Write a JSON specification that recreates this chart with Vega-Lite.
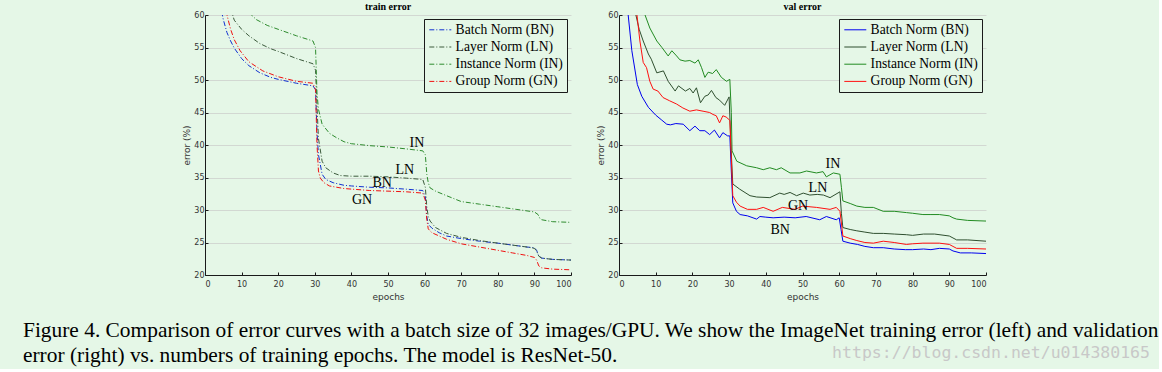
{
"$schema": "https://vega.github.io/schema/vega-lite/v6.json",
"background": "#e5f7e7",
"padding": {"left": 23, "top": 2, "right": 0, "bottom": 0},
"autosize": {"type": "pad"},
"config": {
  "view": {"stroke": null},
  "font": "DejaVu Sans",
  "axis": {"domainColor": "#1a1a1a", "tickColor": "#1a1a1a", "tickSize": -3, "labelFont": "DejaVu Sans", "labelFontSize": 8, "labelColor": "#333", "titleFont": "DejaVu Sans", "titleFontSize": 9, "titleFontWeight": "normal", "titleColor": "#333", "gridColor": "#d2d8d2", "gridWidth": 1, "labelOverlap": false},
  "axisX": {"grid": false, "labelPadding": 8, "titlePadding": 4},
  "axisY": {"grid": true, "labelPadding": 4, "titlePadding": 2},
  "title": {"font": "Liberation Serif", "fontSize": 10, "fontWeight": "bold", "color": "#000", "offset": -1},
  "legend": {"orient": "top-right", "offset": 4, "padding": 4, "strokeColor": "#1a1a1a", "fillColor": "#e5f7e7", "labelFont": "Liberation Serif", "labelFontSize": 13.6, "labelColor": "#000", "symbolType": "M-1,0H3", "symbolSize": 121, "symbolStrokeWidth": 1, "labelOffset": 14, "rowPadding": 2.2, "labelLimit": 300},
  "text": {"font": "Liberation Serif", "fontSize": 14, "color": "#000"}
},
"datasets": {
  "train": [
    {"norm":"BN","epoch":0,"error":85},{"norm":"BN","epoch":2,"error":70},{"norm":"BN","epoch":4,"error":62},{"norm":"BN","epoch":5,"error":59.3},{"norm":"BN","epoch":6,"error":57.3},{"norm":"BN","epoch":7,"error":56},{"norm":"BN","epoch":8,"error":54.9},{"norm":"BN","epoch":10,"error":53.3},{"norm":"BN","epoch":12,"error":52.2},{"norm":"BN","epoch":15,"error":51.1},{"norm":"BN","epoch":18,"error":50.4},{"norm":"BN","epoch":20,"error":50.1},{"norm":"BN","epoch":25,"error":49.5},{"norm":"BN","epoch":29.5,"error":49.1},{"norm":"BN","epoch":30.2,"error":48.5},{"norm":"BN","epoch":30.6,"error":42},{"norm":"BN","epoch":31,"error":38.5},{"norm":"BN","epoch":32,"error":35.5},{"norm":"BN","epoch":33,"error":34.7},{"norm":"BN","epoch":35,"error":34.2},{"norm":"BN","epoch":38,"error":33.8},{"norm":"BN","epoch":40,"error":33.7},{"norm":"BN","epoch":45,"error":33.5},{"norm":"BN","epoch":50,"error":33.4},{"norm":"BN","epoch":55,"error":33.2},{"norm":"BN","epoch":59.5,"error":33.0},{"norm":"BN","epoch":60.2,"error":32},{"norm":"BN","epoch":60.6,"error":29},{"norm":"BN","epoch":61,"error":27.8},{"norm":"BN","epoch":62,"error":27.2},{"norm":"BN","epoch":64,"error":26.5},{"norm":"BN","epoch":66,"error":26},{"norm":"BN","epoch":70,"error":25.6},{"norm":"BN","epoch":75,"error":25.2},{"norm":"BN","epoch":80,"error":24.9},{"norm":"BN","epoch":84,"error":24.6},{"norm":"BN","epoch":88,"error":24.3},{"norm":"BN","epoch":90,"error":24.2},{"norm":"BN","epoch":90.6,"error":23.8},{"norm":"BN","epoch":91.2,"error":22.9},{"norm":"BN","epoch":92,"error":22.6},{"norm":"BN","epoch":95,"error":22.4},{"norm":"BN","epoch":100,"error":22.3},
    {"norm":"LN","epoch":0,"error":90},{"norm":"LN","epoch":4,"error":70},{"norm":"LN","epoch":6,"error":63.5},{"norm":"LN","epoch":7,"error":61},{"norm":"LN","epoch":8,"error":59.2},{"norm":"LN","epoch":10,"error":57.8},{"norm":"LN","epoch":12,"error":56.8},{"norm":"LN","epoch":15,"error":55.6},{"norm":"LN","epoch":18,"error":54.8},{"norm":"LN","epoch":20,"error":54.4},{"norm":"LN","epoch":25,"error":53.3},{"norm":"LN","epoch":29.5,"error":52.5},{"norm":"LN","epoch":30.2,"error":51.5},{"norm":"LN","epoch":30.6,"error":46},{"norm":"LN","epoch":31,"error":41},{"norm":"LN","epoch":32,"error":37.5},{"norm":"LN","epoch":33,"error":36.5},{"norm":"LN","epoch":35,"error":35.7},{"norm":"LN","epoch":37,"error":35.3},{"norm":"LN","epoch":40,"error":35.2},{"norm":"LN","epoch":45,"error":35.2},{"norm":"LN","epoch":50,"error":35.1},{"norm":"LN","epoch":55,"error":34.9},{"norm":"LN","epoch":59.5,"error":34.7},{"norm":"LN","epoch":60.2,"error":33.5},{"norm":"LN","epoch":60.6,"error":30.5},{"norm":"LN","epoch":61,"error":29},{"norm":"LN","epoch":61.5,"error":28.3},{"norm":"LN","epoch":63,"error":27.3},{"norm":"LN","epoch":66,"error":26.4},{"norm":"LN","epoch":70,"error":25.8},{"norm":"LN","epoch":75,"error":25.3},{"norm":"LN","epoch":80,"error":24.9},{"norm":"LN","epoch":84,"error":24.6},{"norm":"LN","epoch":88,"error":24.3},{"norm":"LN","epoch":90,"error":24.1},{"norm":"LN","epoch":90.6,"error":23.7},{"norm":"LN","epoch":91.2,"error":22.9},{"norm":"LN","epoch":92,"error":22.6},{"norm":"LN","epoch":95,"error":22.4},{"norm":"LN","epoch":100,"error":22.3},
    {"norm":"IN","epoch":0,"error":95},{"norm":"IN","epoch":5,"error":75},{"norm":"IN","epoch":8,"error":67},{"norm":"IN","epoch":10,"error":63},{"norm":"IN","epoch":12,"error":60.4},{"norm":"IN","epoch":14,"error":59.3},{"norm":"IN","epoch":17,"error":58.4},{"norm":"IN","epoch":20,"error":57.8},{"norm":"IN","epoch":25,"error":56.8},{"norm":"IN","epoch":29.5,"error":56.0},{"norm":"IN","epoch":30.2,"error":55},{"norm":"IN","epoch":30.6,"error":48},{"norm":"IN","epoch":31,"error":45.5},{"norm":"IN","epoch":32,"error":43.2},{"norm":"IN","epoch":34,"error":41.8},{"norm":"IN","epoch":36,"error":41.1},{"norm":"IN","epoch":38,"error":40.5},{"norm":"IN","epoch":40,"error":40.2},{"norm":"IN","epoch":45,"error":39.9},{"norm":"IN","epoch":50,"error":39.7},{"norm":"IN","epoch":55,"error":39.4},{"norm":"IN","epoch":59.5,"error":39.1},{"norm":"IN","epoch":60.2,"error":38.5},{"norm":"IN","epoch":60.6,"error":35.5},{"norm":"IN","epoch":61,"error":34.2},{"norm":"IN","epoch":61.5,"error":33.4},{"norm":"IN","epoch":63,"error":32.9},{"norm":"IN","epoch":66,"error":32.2},{"norm":"IN","epoch":70,"error":31.3},{"norm":"IN","epoch":75,"error":30.9},{"norm":"IN","epoch":80,"error":30.5},{"norm":"IN","epoch":85,"error":30.1},{"norm":"IN","epoch":90,"error":29.7},{"norm":"IN","epoch":91,"error":29.3},{"norm":"IN","epoch":91.5,"error":28.7},{"norm":"IN","epoch":92,"error":28.5},{"norm":"IN","epoch":95,"error":28.2},{"norm":"IN","epoch":100,"error":28.1},
    {"norm":"GN","epoch":0,"error":85},{"norm":"GN","epoch":3,"error":68},{"norm":"GN","epoch":5,"error":62},{"norm":"GN","epoch":6,"error":60},{"norm":"GN","epoch":7,"error":57.8},{"norm":"GN","epoch":8,"error":56.2},{"norm":"GN","epoch":9.6,"error":54.5},{"norm":"GN","epoch":12,"error":52.8},{"norm":"GN","epoch":15.8,"error":51.4},{"norm":"GN","epoch":20,"error":50.5},{"norm":"GN","epoch":25,"error":49.8},{"norm":"GN","epoch":29.5,"error":49.5},{"norm":"GN","epoch":30.2,"error":48.5},{"norm":"GN","epoch":30.6,"error":40},{"norm":"GN","epoch":31,"error":36},{"norm":"GN","epoch":31.5,"error":34.9},{"norm":"GN","epoch":32.5,"error":34.2},{"norm":"GN","epoch":34,"error":33.7},{"norm":"GN","epoch":38,"error":33.3},{"norm":"GN","epoch":45,"error":33.0},{"norm":"GN","epoch":50,"error":32.9},{"norm":"GN","epoch":55,"error":32.8},{"norm":"GN","epoch":59.5,"error":32.6},{"norm":"GN","epoch":60.2,"error":31.5},{"norm":"GN","epoch":60.6,"error":28.5},{"norm":"GN","epoch":61,"error":27.1},{"norm":"GN","epoch":62,"error":26.5},{"norm":"GN","epoch":64,"error":26},{"norm":"GN","epoch":66,"error":25.5},{"norm":"GN","epoch":70,"error":24.8},{"norm":"GN","epoch":75,"error":24.3},{"norm":"GN","epoch":80,"error":23.8},{"norm":"GN","epoch":84,"error":23.4},{"norm":"GN","epoch":88,"error":23},{"norm":"GN","epoch":90,"error":22.7},{"norm":"GN","epoch":90.6,"error":22.3},{"norm":"GN","epoch":91.2,"error":21.4},{"norm":"GN","epoch":92,"error":21.1},{"norm":"GN","epoch":95,"error":20.9},{"norm":"GN","epoch":100,"error":20.8}
  ],
  "val": [
    {"norm":"BN","epoch":0,"error":80},{"norm":"BN","epoch":1,"error":70},{"norm":"BN","epoch":2,"error":62},{"norm":"BN","epoch":2.5,"error":60},{"norm":"BN","epoch":3.5,"error":54.5},{"norm":"BN","epoch":5,"error":49.3},{"norm":"BN","epoch":6.2,"error":47.5},{"norm":"BN","epoch":8,"error":45.8},{"norm":"BN","epoch":10,"error":44.6},{"norm":"BN","epoch":11.5,"error":43.9},{"norm":"BN","epoch":13,"error":43.2},{"norm":"BN","epoch":14,"error":43.1},{"norm":"BN","epoch":15.5,"error":43.3},{"norm":"BN","epoch":17.5,"error":43.2},{"norm":"BN","epoch":19.3,"error":42.2},{"norm":"BN","epoch":20.7,"error":42.9},{"norm":"BN","epoch":22,"error":42.2},{"norm":"BN","epoch":23.4,"error":42.2},{"norm":"BN","epoch":24.7,"error":41.6},{"norm":"BN","epoch":26,"error":42.3},{"norm":"BN","epoch":27.4,"error":41.1},{"norm":"BN","epoch":28.3,"error":41.9},{"norm":"BN","epoch":29.6,"error":41.4},{"norm":"BN","epoch":30.2,"error":41.4},{"norm":"BN","epoch":30.6,"error":36},{"norm":"BN","epoch":31,"error":31.1},{"norm":"BN","epoch":32,"error":29.8},{"norm":"BN","epoch":33,"error":29.3},{"norm":"BN","epoch":35,"error":29.1},{"norm":"BN","epoch":37.5,"error":28.6},{"norm":"BN","epoch":38.4,"error":29.0},{"norm":"BN","epoch":40,"error":28.9},{"norm":"BN","epoch":42,"error":28.8},{"norm":"BN","epoch":45,"error":28.9},{"norm":"BN","epoch":48,"error":28.8},{"norm":"BN","epoch":51,"error":29.0},{"norm":"BN","epoch":54.7,"error":28.5},{"norm":"BN","epoch":56.5,"error":29.0},{"norm":"BN","epoch":59.2,"error":28.5},{"norm":"BN","epoch":60,"error":28.8},{"norm":"BN","epoch":60.5,"error":27},{"norm":"BN","epoch":61,"error":25.2},{"norm":"BN","epoch":63,"error":24.9},{"norm":"BN","epoch":65,"error":24.7},{"norm":"BN","epoch":67,"error":24.4},{"norm":"BN","epoch":69.3,"error":24.2},{"norm":"BN","epoch":72,"error":24.2},{"norm":"BN","epoch":75,"error":24.0},{"norm":"BN","epoch":78,"error":23.9},{"norm":"BN","epoch":80,"error":23.9},{"norm":"BN","epoch":83,"error":24.0},{"norm":"BN","epoch":85,"error":23.9},{"norm":"BN","epoch":87.3,"error":24.1},{"norm":"BN","epoch":90,"error":24.0},{"norm":"BN","epoch":91,"error":23.7},{"norm":"BN","epoch":93,"error":23.4},{"norm":"BN","epoch":96,"error":23.4},{"norm":"BN","epoch":100,"error":23.3},
    {"norm":"LN","epoch":0,"error":90},{"norm":"LN","epoch":2,"error":72},{"norm":"LN","epoch":4,"error":62},{"norm":"LN","epoch":4.6,"error":60},{"norm":"LN","epoch":5.5,"error":57.8},{"norm":"LN","epoch":6.6,"error":56},{"norm":"LN","epoch":8,"error":54},{"norm":"LN","epoch":8.8,"error":53.2},{"norm":"LN","epoch":10.3,"error":51.1},{"norm":"LN","epoch":12.1,"error":51.4},{"norm":"LN","epoch":13.4,"error":49.8},{"norm":"LN","epoch":15.3,"error":48.3},{"norm":"LN","epoch":16.2,"error":49.1},{"norm":"LN","epoch":18.1,"error":48.3},{"norm":"LN","epoch":19.3,"error":48.7},{"norm":"LN","epoch":20.2,"error":48.0},{"norm":"LN","epoch":21.1,"error":48.8},{"norm":"LN","epoch":22.2,"error":46.5},{"norm":"LN","epoch":23.4,"error":47.5},{"norm":"LN","epoch":24.3,"error":47.7},{"norm":"LN","epoch":25.2,"error":48.4},{"norm":"LN","epoch":26.4,"error":47.3},{"norm":"LN","epoch":27.4,"error":46.9},{"norm":"LN","epoch":28.8,"error":46.1},{"norm":"LN","epoch":30,"error":47.4},{"norm":"LN","epoch":30.5,"error":40},{"norm":"LN","epoch":31,"error":34.0},{"norm":"LN","epoch":32.9,"error":33.2},{"norm":"LN","epoch":35.7,"error":32.2},{"norm":"LN","epoch":37.5,"error":32.0},{"norm":"LN","epoch":41.1,"error":31.9},{"norm":"LN","epoch":43.8,"error":32.6},{"norm":"LN","epoch":45,"error":32.4},{"norm":"LN","epoch":46.6,"error":32.7},{"norm":"LN","epoch":48.4,"error":32.2},{"norm":"LN","epoch":50.2,"error":32.6},{"norm":"LN","epoch":52,"error":32.3},{"norm":"LN","epoch":54,"error":32.4},{"norm":"LN","epoch":55.7,"error":32.3},{"norm":"LN","epoch":57.5,"error":31.9},{"norm":"LN","epoch":60.2,"error":32.8},{"norm":"LN","epoch":60.6,"error":29.5},{"norm":"LN","epoch":61,"error":27.3},{"norm":"LN","epoch":63,"error":27.0},{"norm":"LN","epoch":64.8,"error":26.8},{"norm":"LN","epoch":67,"error":26.6},{"norm":"LN","epoch":69.3,"error":26.4},{"norm":"LN","epoch":72,"error":26.4},{"norm":"LN","epoch":75,"error":26.3},{"norm":"LN","epoch":78.3,"error":26.2},{"norm":"LN","epoch":80,"error":26.1},{"norm":"LN","epoch":83,"error":26.3},{"norm":"LN","epoch":86,"error":26.3},{"norm":"LN","epoch":90,"error":26.0},{"norm":"LN","epoch":91,"error":25.7},{"norm":"LN","epoch":92,"error":25.4},{"norm":"LN","epoch":95,"error":25.4},{"norm":"LN","epoch":100,"error":25.2},
    {"norm":"IN","epoch":0,"error":100},{"norm":"IN","epoch":4,"error":75},{"norm":"IN","epoch":6,"error":64},{"norm":"IN","epoch":7.1,"error":60},{"norm":"IN","epoch":8.4,"error":58},{"norm":"IN","epoch":10.3,"error":56},{"norm":"IN","epoch":11.7,"error":55},{"norm":"IN","epoch":13.4,"error":53.7},{"norm":"IN","epoch":14.4,"error":54.5},{"norm":"IN","epoch":15.7,"error":53.7},{"norm":"IN","epoch":16.6,"error":53.1},{"norm":"IN","epoch":18,"error":52.9},{"norm":"IN","epoch":19.3,"error":53.0},{"norm":"IN","epoch":20.7,"error":52.6},{"norm":"IN","epoch":21.6,"error":53.1},{"norm":"IN","epoch":22.5,"error":51.9},{"norm":"IN","epoch":23.4,"error":50.4},{"norm":"IN","epoch":24.3,"error":51.2},{"norm":"IN","epoch":25.5,"error":51.0},{"norm":"IN","epoch":26.5,"error":51.6},{"norm":"IN","epoch":27.9,"error":50.4},{"norm":"IN","epoch":29.3,"error":49.8},{"norm":"IN","epoch":30.2,"error":50.1},{"norm":"IN","epoch":30.6,"error":45},{"norm":"IN","epoch":30.8,"error":39.1},{"norm":"IN","epoch":32.1,"error":37.5},{"norm":"IN","epoch":34.8,"error":36.8},{"norm":"IN","epoch":37.5,"error":36.5},{"norm":"IN","epoch":39.3,"error":36.2},{"norm":"IN","epoch":41.1,"error":36.5},{"norm":"IN","epoch":42.9,"error":36.2},{"norm":"IN","epoch":44.2,"error":36.5},{"norm":"IN","epoch":46.6,"error":35.7},{"norm":"IN","epoch":49.3,"error":35.7},{"norm":"IN","epoch":51.1,"error":36.0},{"norm":"IN","epoch":53.8,"error":35.7},{"norm":"IN","epoch":55.6,"error":35.9},{"norm":"IN","epoch":56.5,"error":35.1},{"norm":"IN","epoch":58.4,"error":35.7},{"norm":"IN","epoch":60.2,"error":35.5},{"norm":"IN","epoch":60.6,"error":33.5},{"norm":"IN","epoch":61,"error":31.4},{"norm":"IN","epoch":63,"error":31.0},{"norm":"IN","epoch":64.8,"error":30.6},{"norm":"IN","epoch":67,"error":30.4},{"norm":"IN","epoch":69.3,"error":30.4},{"norm":"IN","epoch":72,"error":29.8},{"norm":"IN","epoch":75,"error":29.8},{"norm":"IN","epoch":78.3,"error":29.6},{"norm":"IN","epoch":80,"error":29.5},{"norm":"IN","epoch":82.8,"error":29.3},{"norm":"IN","epoch":85,"error":29.3},{"norm":"IN","epoch":87.3,"error":29.3},{"norm":"IN","epoch":90,"error":29.1},{"norm":"IN","epoch":91,"error":28.8},{"norm":"IN","epoch":92,"error":28.6},{"norm":"IN","epoch":95,"error":28.4},{"norm":"IN","epoch":100,"error":28.3},
    {"norm":"GN","epoch":0,"error":85},{"norm":"GN","epoch":2,"error":70},{"norm":"GN","epoch":4,"error":62},{"norm":"GN","epoch":4.9,"error":60},{"norm":"GN","epoch":5.7,"error":56},{"norm":"GN","epoch":6.6,"error":52.7},{"norm":"GN","epoch":7.5,"error":51.9},{"norm":"GN","epoch":8.4,"error":49.8},{"norm":"GN","epoch":9.3,"error":48.6},{"norm":"GN","epoch":10.6,"error":48.3},{"norm":"GN","epoch":12,"error":47.3},{"norm":"GN","epoch":13.8,"error":46.8},{"norm":"GN","epoch":15.7,"error":46.3},{"norm":"GN","epoch":17.4,"error":45.7},{"norm":"GN","epoch":19.3,"error":45.2},{"norm":"GN","epoch":21.1,"error":45.4},{"norm":"GN","epoch":22.9,"error":45.2},{"norm":"GN","epoch":24.7,"error":45.0},{"norm":"GN","epoch":25.6,"error":44.7},{"norm":"GN","epoch":26.5,"error":44.5},{"norm":"GN","epoch":27.4,"error":43.4},{"norm":"GN","epoch":28.3,"error":44.5},{"norm":"GN","epoch":29.2,"error":44.3},{"norm":"GN","epoch":30.2,"error":43.8},{"norm":"GN","epoch":30.6,"error":38},{"norm":"GN","epoch":31,"error":32.2},{"norm":"GN","epoch":32,"error":31.2},{"norm":"GN","epoch":33,"error":30.6},{"norm":"GN","epoch":35,"error":30.1},{"norm":"GN","epoch":37.5,"error":30.1},{"norm":"GN","epoch":39.3,"error":30.4},{"norm":"GN","epoch":42,"error":29.8},{"norm":"GN","epoch":44.5,"error":30.4},{"norm":"GN","epoch":48,"error":30.1},{"norm":"GN","epoch":50,"error":30.6},{"norm":"GN","epoch":53.8,"error":30.4},{"norm":"GN","epoch":57.5,"error":30.1},{"norm":"GN","epoch":59.2,"error":30.4},{"norm":"GN","epoch":60.2,"error":29.8},{"norm":"GN","epoch":60.6,"error":28},{"norm":"GN","epoch":61,"error":26.0},{"norm":"GN","epoch":63,"error":25.6},{"norm":"GN","epoch":64.8,"error":25.3},{"norm":"GN","epoch":67,"error":25.0},{"norm":"GN","epoch":69.3,"error":24.9},{"norm":"GN","epoch":72,"error":25.2},{"norm":"GN","epoch":75,"error":25.0},{"norm":"GN","epoch":78.3,"error":24.7},{"norm":"GN","epoch":80,"error":24.8},{"norm":"GN","epoch":82.8,"error":24.9},{"norm":"GN","epoch":85,"error":24.9},{"norm":"GN","epoch":87.3,"error":24.9},{"norm":"GN","epoch":90,"error":24.7},{"norm":"GN","epoch":91,"error":24.4},{"norm":"GN","epoch":92,"error":24.1},{"norm":"GN","epoch":95,"error":24.1},{"norm":"GN","epoch":100,"error":24.0}
  ],
  "trainLabels": [
    {"label":"IN","epoch":57.9,"error":40.3},{"label":"LN","epoch":54.6,"error":36.2},{"label":"BN","epoch":48.4,"error":34.2},{"label":"GN","epoch":42.9,"error":31.5}
  ],
  "valLabels": [
    {"label":"IN","epoch":58.3,"error":37.1},{"label":"LN","epoch":54.2,"error":33.4},{"label":"GN","epoch":48.8,"error":30.6},{"label":"BN","epoch":43.9,"error":26.9}
  ],
  "caption": [
    {"line":1,"text":"Figure 4. Comparison of error curves with a batch size of 32 images/GPU. We show the ImageNet training error (left) and validation"},
    {"line":2,"text":"error (right) vs. numbers of training epochs. The model is ResNet-50."}
  ],
  "watermark": [
    {"line":2,"text":"https://blog.csdn.net/u014380165"}
  ]
},
"columns": 2,
"bounds": "flush",
"spacing": {"column": 48, "row": 43.5},
"resolve": {"scale": {"color": "independent", "x": "independent", "y": "independent"}, "legend": {"color": "independent"}},
"concat": [
  {
    "width": 366, "height": 260,
    "title": {"text": "train error"},
    "encoding": {
      "x": {"field": "epoch", "type": "quantitative", "scale": {"domain": [0, 100], "nice": false}, "axis": {"title": "epochs", "values": [0,10,20,30,40,50,60,70,80,90,100]}},
      "y": {"field": "error", "type": "quantitative", "scale": {"domain": [20, 60], "nice": false}, "axis": {"title": "error (%)", "values": [20,25,30,35,40,45,50,55,60]}}
    },
    "layer": [
      {
        "data": {"name": "train"},
        "mark": {"type": "line", "clip": true, "strokeWidth": 1, "strokeDash": [5, 2, 1, 2]},
        "encoding": {
          "color": {"field": "norm", "type": "nominal", "scale": {"domain": ["BN","LN","IN","GN"], "range": ["#1030d0","#3c5a3c","#2e8b2e","#f01010"]}, "legend": {"title": null, "symbolDash": [5, 2, 1, 2], "labelExpr": "{'BN':'Batch Norm (BN)','LN':'Layer Norm (LN)','IN':'Instance Norm (IN)','GN':'Group Norm (GN)'}[datum.label]"}}
        }
      },
      {
        "data": {"name": "trainLabels"},
        "mark": {"type": "text", "align": "center", "baseline": "middle"},
        "encoding": {"text": {"field": "label"}}
      }
    ]
  },
  {
    "width": 367, "height": 260,
    "title": {"text": "val error"},
    "encoding": {
      "x": {"field": "epoch", "type": "quantitative", "scale": {"domain": [0, 100], "nice": false}, "axis": {"title": "epochs", "values": [0,10,20,30,40,50,60,70,80,90,100]}},
      "y": {"field": "error", "type": "quantitative", "scale": {"domain": [20, 60], "nice": false}, "axis": {"title": "error (%)", "values": [20,25,30,35,40,45,50,55,60]}}
    },
    "layer": [
      {
        "data": {"name": "val"},
        "mark": {"type": "line", "clip": true, "strokeWidth": 1},
        "encoding": {
          "color": {"field": "norm", "type": "nominal", "scale": {"domain": ["BN","LN","IN","GN"], "range": ["#0000ee","#2f4f2f","#228b22","#ff1010"]}, "legend": {"title": null, "labelExpr": "{'BN':'Batch Norm (BN)','LN':'Layer Norm (LN)','IN':'Instance Norm (IN)','GN':'Group Norm (GN)'}[datum.label]"}}
        }
      },
      {
        "data": {"name": "valLabels"},
        "mark": {"type": "text", "align": "center", "baseline": "middle"},
        "encoding": {"text": {"field": "label"}}
      }
    ]
  },
  {
    "width": 366, "height": 50,
    "encoding": {
      "y": {"field": "line", "type": "ordinal", "axis": null, "scale": {"paddingInner": 0, "paddingOuter": 0}},
      "text": {"field": "text"}
    },
    "layer": [
      {
        "data": {"name": "caption"},
        "mark": {"type": "text", "align": "left", "baseline": "middle", "x": -182, "font": "Liberation Serif", "fontSize": 21.4, "color": "#000"}
      }
    ]
  },
  {
    "width": 367, "height": 50,
    "encoding": {
      "y": {"field": "line", "type": "ordinal", "axis": null, "scale": {"domain": [1, 2], "paddingInner": 0, "paddingOuter": 0}},
      "text": {"field": "text"}
    },
    "layer": [
      {
        "data": {"name": "watermark"},
        "mark": {"type": "text", "align": "right", "baseline": "middle", "x": "width", "dx": 164, "dy": -3, "font": "DejaVu Sans Mono", "fontSize": 16.5, "color": "#c8c8c8"}
      }
    ]
  }
]
}
